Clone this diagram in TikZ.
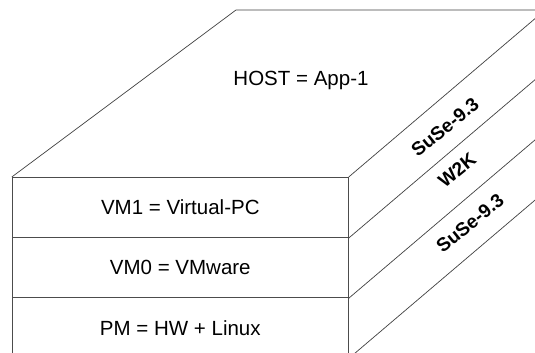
\documentclass[tikz,border=0pt]{standalone}
\usepackage{fontspec}
\setmainfont{Liberation Sans}
\begin{document}
\begin{tikzpicture}[x=1pt,y=-1pt,
  edge/.style={draw=black!70,line width=0.9pt},
  thin edge/.style={draw=black!75,line width=0.7pt},
  layer/.style={edge,minimum width=336pt,minimum height=60.2pt,inner sep=0pt,
    font=\fontsize{20.5}{24}\selectfont},
  toplabel/.style={font=\fontsize{20.5}{24}\selectfont},
  sidelabel/.style={font=\fontsize{19}{23}\selectfont\bfseries,rotate=39,inner sep=0pt}]
\useasboundingbox (0,0) rectangle (535,353);
\clip (0,0) rectangle (535,353);
% front face layers
\node[layer] (vm1) at (180.3,207.5) {VM1 = Virtual-PC};
\node[layer] (vm0) at (180.3,267.7) {VM0 = VMware};
\node[layer] (pm)  at (180.3,327.9) {PM = HW + Linux};
% top face
\coordinate (backleft) at (236,10);
\coordinate (backright) at (600,10);
\draw[thin edge] (vm1.north west) -- (backleft) -- (backright);
% right side diagonals
\foreach \a/\n in {vm1.north east/r1, vm1.south east/r2, vm0.south east/r3, pm.south east/r4}{
  \draw[thin edge] (\a) -- ++(250,-212.5) coordinate (\n);
}
% labels
\node[toplabel] (host) at (301,80) {HOST = App-1};
\node[sidelabel] (os1) at (445,127) {SuSe-9.3};
\node[sidelabel] (os2) at (457,170) {W2K};
\node[sidelabel] (os3) at (470,223) {SuSe-9.3};
\end{tikzpicture}
\end{document}
